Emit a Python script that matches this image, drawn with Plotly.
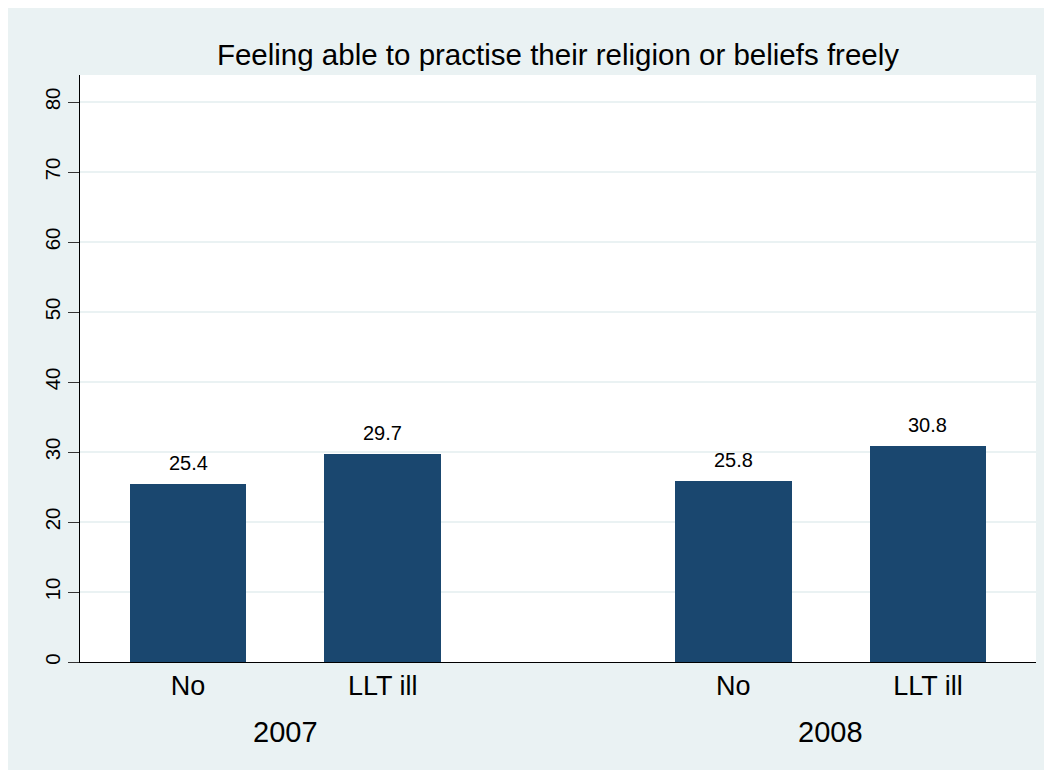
import plotly.graph_objects as go

# ---- data ----
years = ["2007", "2008"]
groups = ["No", "LLT ill"]
values_2007 = [25.4, 29.7]
values_2008 = [25.8, 30.8]
y_ticks = [0, 10, 20, 30, 40, 50, 60, 70, 80]
title_text = "Feeling able to practise their religion or beliefs freely"

# ---- layout constants ----
W, H = 1044, 762
ML, MR, MT, MB = 72, 16, 67, 108
BAR_COLOR = "#1a476f"
BG = "#EAF2F3"
FONT = "Liberation Sans, Arial, sans-serif"

GROUP_GAP = 2.8   # distance between group starts, in bar-spacing units
BAR_W = 0.6

series = [values_2007, values_2008]
xs, ys, labels = [], [], []
for gi, vals in enumerate(series):
    for bi, v in enumerate(vals):
        xs.append(gi * GROUP_GAP + bi)
        ys.append(v)
        labels.append(groups[bi])

fig = go.Figure()
fig.add_trace(go.Bar(
    x=xs, y=ys, width=BAR_W,
    marker=dict(color=BAR_COLOR, line=dict(color=BAR_COLOR, width=0)),
    hoverinfo="skip",
))

annotations = []
for x, v in zip(xs, ys):
    annotations.append(dict(
        x=x, y=v, xref="x", yref="y", text=f"{v:.1f}", showarrow=False,
        yanchor="bottom", yshift=8, font=dict(size=20, color="black", family=FONT),
    ))
for gi, yr in enumerate(years):
    annotations.append(dict(
        x=gi * GROUP_GAP + 0.5, y=0, xref="x", yref="y", text=yr, showarrow=False,
        yanchor="middle", yshift=-70, font=dict(size=29, color="black", family=FONT),
    ))

fig.update_layout(
    width=W, height=H,
    margin=dict(l=ML, r=MR, t=MT, b=MB, pad=0),
    paper_bgcolor=BG, plot_bgcolor="white",
    font=dict(family=FONT, color="black"),
    showlegend=False,
    bargap=0,
    title=dict(text=title_text, x=0.5, xref="paper", xanchor="center",
               y=1 - 47 / H, yref="container", yanchor="middle",
               font=dict(size=29.5, color="black", family=FONT)),
    xaxis=dict(
        range=[-0.555, GROUP_GAP + 1 + 0.555],
        tickvals=xs, ticktext=labels,
        tickfont=dict(size=27, color="black", family=FONT),
        ticks="", showgrid=False, zeroline=False,
        showline=True, linecolor="black", linewidth=1,
        fixedrange=True,
    ),
    yaxis=dict(
        range=[0, 83.86],
        tickvals=y_ticks, ticktext=[str(t) for t in y_ticks],
        tickangle=-90,
        tickfont=dict(size=20.5, color="black", family=FONT),
        ticks="outside", ticklen=11, tickwidth=1, tickcolor="#333333",
        showgrid=True, gridcolor=BG, gridwidth=2,
        zeroline=False,
        showline=True, linecolor="black", linewidth=1,
        fixedrange=True,
    ),
    annotations=annotations,
)

fig.write_html("out.html")
